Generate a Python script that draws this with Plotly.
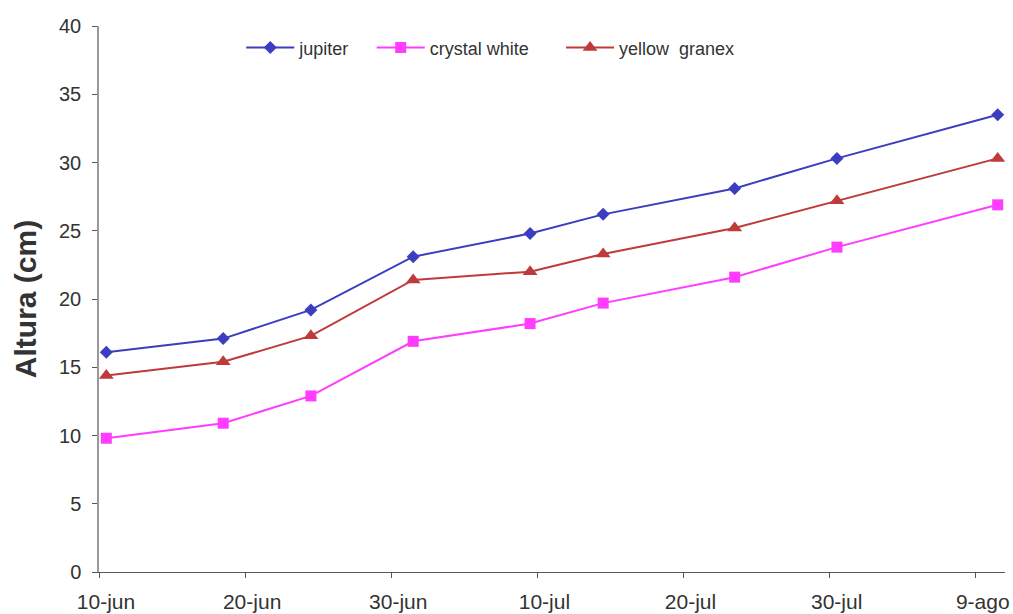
import pandas as pd
import plotly.graph_objects as go

# Measurement dates (year is nominal) and plant height in cm per cultivar
fechas = ["2000-06-10", "2000-06-18", "2000-06-24", "2000-07-01", "2000-07-09",
          "2000-07-14", "2000-07-23", "2000-07-30", "2000-08-10"]
jupiter = [16.1, 17.1, 19.2, 23.1, 24.8, 26.2, 28.1, 30.3, 33.5]
crystal_white = [9.8, 10.9, 12.9, 16.9, 18.2, 19.7, 21.6, 23.8, 26.9]
yellow_granex = [14.4, 15.4, 17.3, 21.4, 22.0, 23.3, 25.2, 27.2, 30.3]

tick_fechas = ["2000-06-10", "2000-06-20", "2000-06-30", "2000-07-10",
               "2000-07-20", "2000-07-30", "2000-08-09"]
tick_labels = ["10-jun", "20-jun", "30-jun", "10-jul", "20-jul", "30-jul", "9-ago"]

# each date occupies a one-day slot; points sit in the middle of their day
x = pd.to_datetime(fechas) + pd.Timedelta(hours=12)

# name, values, colour, marker symbol, marker size, legend id, legend x
series = [
    ("jupiter", jupiter, "#3B3EBE", "diamond", 10, "legend", 0.157),
    ("crystal white", crystal_white, "#FF3CFF", "square", 11, "legend2", 0.301),
    ("yellow  granex", yellow_granex, "#BF3B3B", "triangle-up", 13, "legend3", 0.510),
]

font_family = "Liberation Sans, Arial, sans-serif"

fig = go.Figure()
legends = {}
for name, vals, color, symbol, size, leg, lx in series:
    fig.add_trace(go.Scatter(
        x=x, y=vals, name=name, mode="lines+markers", legend=leg,
        line=dict(color=color, width=2),
        marker=dict(symbol=symbol, size=size, color=color, line=dict(width=0)),
    ))
    legends[leg] = dict(
        x=lx, xanchor="left", y=0.96, yanchor="middle",
        font=dict(size=18, color="#333333", family=font_family),
        bgcolor="rgba(0,0,0,0)", itemwidth=48,
    )

fig.update_layout(
    width=1013, height=614,
    margin=dict(l=99, r=8, t=26, b=42),
    plot_bgcolor="white", paper_bgcolor="white",
    font=dict(family=font_family, color="#333333", size=20),
    showlegend=True,
    **legends,
    xaxis=dict(
        type="date", automargin=False,
        range=["2000-06-10", "2000-08-11"],
        tickvals=tick_fechas, ticktext=tick_labels,
        ticks="outside", ticklen=5, tickcolor="#555555", tickwidth=1,
        ticklabelshift=7, ticklabelstandoff=6,
        showline=True, linecolor="#555555", linewidth=1,
        showgrid=False, zeroline=False,
        tickfont=dict(size=21, color="#333333"),
    ),
    yaxis=dict(
        automargin=False,
        range=[0, 40], tickvals=[0, 5, 10, 15, 20, 25, 30, 35, 40],
        ticks="outside", ticklen=5, tickcolor="#555555", tickwidth=1,
        ticklabelstandoff=7,
        showline=True, linecolor="#999999", linewidth=1.5,
        showgrid=False, zeroline=False,
        tickfont=dict(size=20, color="#333333"),
        title=dict(text="<b>Altura (cm)</b>", standoff=14,
                   font=dict(size=30, color="#333333", family=font_family)),
    ),
)

fig.write_html("out.html")
